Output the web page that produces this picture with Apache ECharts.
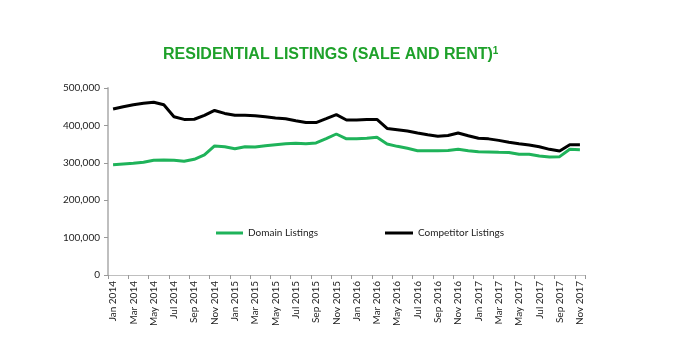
<!DOCTYPE html>
<html><head><meta charset="utf-8">
<script src="https://cdn.jsdelivr.net/npm/echarts@6/dist/echarts.min.js"></script>
<style>html,body{margin:0;padding:0;background:#fff}#c{width:691px;height:362px}</style>
</head><body><div id="c"></div>
<script>
const months = ['Jan','Feb','Mar','Apr','May','Jun','Jul','Aug','Sep','Oct','Nov','Dec'];
const categories = [];
for (let y = 2014; y <= 2017; y++) for (let m = 0; m < 12; m++) { if (y === 2017 && m > 10) break; categories.push(months[m] + ' ' + y); }
const domainListings = [295000,296800,298500,301300,306700,307500,306700,304000,309400,321000,345000,343000,337800,343000,342000,345800,348500,351000,352000,351000,353000,364500,377000,364000,364500,365500,368000,350300,344000,338700,332400,332000,332000,333000,336000,332500,329800,328900,328000,327500,322700,322700,318000,315500,316500,336000,335000];
const competitorListings = [443900,450000,455400,459000,461800,455000,423000,416000,416500,427000,440000,432000,427000,427000,426000,423000,420000,418000,412600,408000,407500,418000,428600,414500,414500,416000,416000,392000,388500,385000,379700,375000,371000,373000,379700,372500,365500,364000,360000,354800,351000,347600,343000,336000,331600,348400,348400];
const yTicks = {min: 0, max: 500000, interval: 100000};
const chart = echarts.init(document.getElementById('c'));
chart.setOption({
  animation: false,
  textStyle: {fontFamily: 'Lato'},
  title: {
    text: '{t|RESIDENTIAL LISTINGS (SALE AND RENT)}{s|1}',
    left: 158, top: 41,
    textStyle: {rich: {
      t: {fontFamily: 'Liberation Sans', fontWeight: 'bold', fontSize: 16, color: '#1ea12a'},
      s: {fontFamily: 'Liberation Sans', fontWeight: 'bold', fontSize: 10, color: '#1ea12a', verticalAlign: 'top', padding: [0,0,7,0]}
    }}
  },
  legend: [
    {left: 211, top: 223, itemWidth: 27, itemHeight: 3, icon: 'rect', data: ['Domain Listings'], textStyle: {fontFamily: 'Lato', fontSize: 10, color: '#222'}},
    {left: 380, top: 223, itemWidth: 28, itemHeight: 3, icon: 'rect', data: ['Competitor Listings'], textStyle: {fontFamily: 'Lato', fontSize: 10, color: '#222'}}
  ],
  grid: {left: 108, right: 106, top: 88, bottom: 87, containLabel: false},
  xAxis: {
    type: 'category', data: categories, boundaryGap: true,
    axisLine: {lineStyle: {color: '#bfbfbf', width: 1}},
    axisTick: {show: true, interval: 1, length: 4, lineStyle: {color: '#999'}},
    axisLabel: {interval: 1, rotate: 90, fontSize: 10, color: '#222', fontFamily: 'Lato', margin: 6},
    splitLine: {show: false}
  },
  yAxis: {
    type: 'value', min: yTicks.min, max: yTicks.max, interval: yTicks.interval,
    axisLine: {show: true, lineStyle: {color: '#bfbfbf', width: 2}},
    axisTick: {show: true, length: 4, lineStyle: {color: '#999'}},
    axisLabel: {fontSize: 10, color: '#222', fontFamily: 'Lato', margin: 8,
      formatter: v => v.toLocaleString('en-US')},
    splitLine: {show: false}
  },
  series: [
    {name: 'Domain Listings', type: 'line', data: domainListings, showSymbol: false, symbol: 'none',
      lineStyle: {color: '#1fb35a', width: 3}, itemStyle: {color: '#1fb35a'}},
    {name: 'Competitor Listings', type: 'line', data: competitorListings, showSymbol: false, symbol: 'none',
      lineStyle: {color: '#000', width: 3}, itemStyle: {color: '#000'}}
  ]
});
</script></body></html>
